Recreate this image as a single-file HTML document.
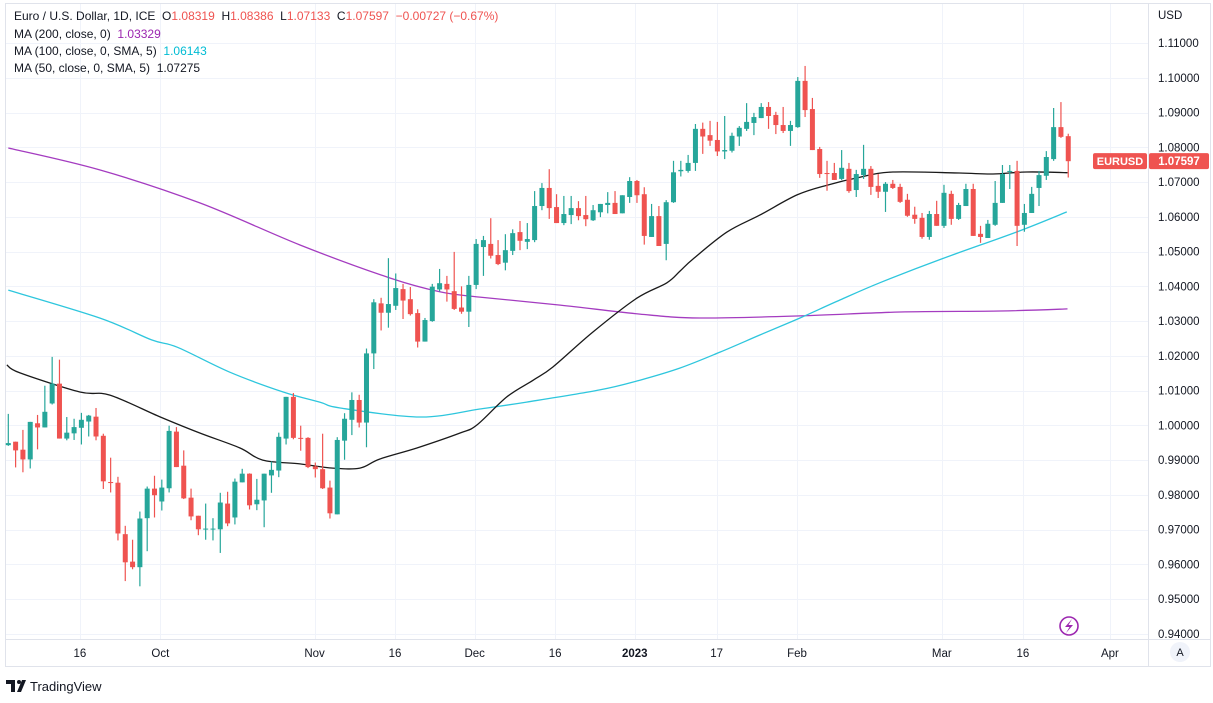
<!DOCTYPE html>
<html><head><meta charset="utf-8">
<style>
html,body{margin:0;padding:0;background:#fff;}
body{width:1213px;height:698px;overflow:hidden;font-family:"Liberation Sans",sans-serif;}
svg text{font-family:"Liberation Sans",sans-serif;}
</style></head>
<body>
<svg id="chart" width="1213" height="698" xmlns="http://www.w3.org/2000/svg"></svg>
<script>
// ---- data (prices in 1/10000 units) ----
const opens=[9943,9953,9930,9902,10006,9994,10063,10120,9962,9977,9993,10011,10025,9970,9837,9835,9687,9608,9592,9733,9818,9781,9819,9982,9884,9792,9740,9701,9701,9701,9775,9735,9836,9861,9773,9784,9856,9870,9962,10082,9964,9964,9882,9874,9821,9744,9956,10016,10073,10008,10207,10351,10324,10344,10392,10363,10323,10241,10300,10391,10407,10386,10339,10327,10404,10513,10522,10490,10468,10502,10556,10528,10533,10631,10683,10628,10582,10605,10625,10605,10590,10613,10634,10640,10610,10657,10703,10665,10542,10602,10522,10642,10731,10732,10755,10853,10835,10821,10788,10790,10831,10853,10870,10884,10916,10893,10864,10847,10858,10991,10910,10795,10726,10726,10709,10738,10677,10720,10738,10689,10672,10695,10686,10649,10606,10597,10542,10608,10574,10666,10594,10631,10680,10551,10539,10577,10640,10729,10732,10577,10611,10683,10718,10766,10858,10832];
const highs=[10033,9953,9987,10010,10030,10114,10197,10189,10024,10019,10036,10030,10050,9976,9907,9852,9711,9671,9752,9824,9855,9844,9999,9995,9928,9818,9740,9775,9733,9806,9809,9847,9875,9862,9846,9861,9896,9979,10082,10093,9999,9966,9893,9976,9841,9966,10035,10095,10088,10221,10363,10367,10481,10437,10407,10398,10334,10309,10407,10450,10430,10499,10400,10430,10536,10545,10596,10533,10550,10564,10588,10582,10674,10697,10737,10665,10660,10660,10645,10660,10634,10637,10671,10674,10662,10714,10706,10685,10637,10631,10648,10761,10761,10778,10867,10871,10876,10873,10890,10842,10861,10927,10899,10927,10930,10902,10916,10876,11002,11034,10942,10801,10761,10755,10792,10755,10735,10807,10746,10723,10700,10706,10695,10666,10629,10611,10617,10646,10692,10675,10640,10695,10695,10574,10591,10703,10749,10749,10761,10637,10686,10732,10789,10913,10930,10839];
const lows=[9941,9879,9865,9876,9931,9994,10060,9962,9957,9958,9945,9968,9957,9817,9807,9669,9552,9586,9537,9638,9735,9755,9807,9880,9788,9727,9684,9671,9669,9633,9710,9715,9836,9758,9756,9707,9806,9851,9945,9960,9927,9877,9850,9817,9732,9744,9901,9972,9994,9937,10162,10273,10281,10332,10306,10316,10224,10241,10298,10385,10356,10332,10321,10283,10392,10430,10480,10461,10446,10490,10504,10507,10527,10619,10594,10582,10576,10579,10590,10573,10588,10599,10610,10608,10610,10640,10640,10520,10542,10516,10475,10640,10716,10727,10732,10781,10804,10775,10766,10785,10804,10847,10835,10884,10853,10838,10841,10804,10856,10887,10792,10712,10675,10706,10706,10669,10657,10709,10663,10654,10614,10680,10640,10600,10580,10537,10534,10574,10568,10577,10591,10631,10545,10525,10539,10574,10640,10680,10516,10557,10611,10631,10706,10761,10827,10713];
const closes=[9949,9928,9902,10010,9994,10039,10120,9962,9979,9995,10016,10028,9968,9839,9834,9689,9606,9592,9732,9818,9799,9821,9984,9880,9790,9738,9701,9703,9703,9778,9718,9838,9861,9770,9786,9861,9872,9967,10082,9964,9962,9880,9874,9819,9747,9958,10019,10073,10008,10207,10354,10324,10349,10395,10359,10320,10241,10303,10399,10409,10391,10335,10327,10404,10522,10533,10488,10464,10504,10553,10531,10536,10631,10683,10625,10582,10608,10625,10602,10593,10619,10637,10640,10608,10662,10703,10662,10545,10602,10516,10642,10728,10735,10755,10853,10831,10819,10788,10792,10833,10856,10873,10887,10916,10890,10864,10847,10864,10991,10907,10792,10723,10723,10706,10741,10674,10723,10738,10686,10672,10695,10683,10643,10603,10594,10542,10608,10574,10669,10594,10634,10680,10545,10542,10580,10640,10723,10732,10574,10611,10666,10720,10772,10858,10830,10760];
const lastPriceText="1.07597";
// moving averages sampled at bar positions (1-based)
const ma50Idx=[0.8,2.6,10.8,14.9,21.8,27.2,32.7,35.8,40.9,45.4,49.1,51.8,56.9,62.8,65.1,69.2,72.8,75.5,81.0,87.0,91.1,92.9,94.7,99.3,103.8,108.9,113.0,117.5,122.0,131.1,135.7,140.3,145.9];
const ma50Val=[1.0174,1.0151,1.0096,1.0087,1.0024,0.9978,0.9935,0.9900,0.9889,0.9877,0.9877,0.9903,0.9935,0.9978,1.0001,1.0082,1.0130,1.0168,1.0269,1.0366,1.0410,1.0444,1.0479,1.0556,1.0605,1.0663,1.0691,1.0714,1.0729,1.0726,1.0723,1.0729,1.0727];
const ma100Idx=[1.0,13.5,20.6,24.1,31.3,38.6,43.6,46.4,57.3,65.5,71.9,81.9,87.4,92.9,98.4,103.8,109.3,114.8,120.2,128.7,138.9,145.8];
const ma100Val=[1.0389,1.0309,1.0246,1.0225,1.0153,1.0096,1.0067,1.0050,1.0024,1.0047,1.0067,1.0102,1.0130,1.0165,1.0211,1.0260,1.0309,1.0361,1.0410,1.0479,1.0556,1.0614];
const ma200Idx=[1.0,13.5,27.2,40.9,53.2,60.1,65.5,76.5,87.4,95.6,109.3,123.0,136.7,145.9];
const ma200Val=[1.0798,1.0735,1.0640,1.0519,1.0424,1.0384,1.0369,1.0346,1.0320,1.0309,1.0315,1.0326,1.0329,1.0335];
const priceTicks=[1.11,1.10,1.09,1.08,1.07,1.06,1.05,1.04,1.03,1.02,1.01,1.00,0.99,0.98,0.97,0.96,0.95,0.94];
const timeLabels=["16","Oct","Nov","16","Dec","16","2023","17","Feb","Mar","16","Apr"];
const timeIdx=[10.8,21.8,42.9,53.9,64.8,75.8,86.7,97.9,108.9,128.7,139.8,151.7];

// ---- axes ----
const svg=document.getElementById('chart');
const NS='http://www.w3.org/2000/svg';
const yOf=p=>43+(1.11-p)*3476;
const xOf=i=>8.3+(i-1)*7.31;
function mk(tag,attrs,parent){const e=document.createElementNS(NS,tag);for(const k in attrs)e.setAttribute(k,attrs[k]);(parent||svg).appendChild(e);return e;}

const frame=mk('g',{});


mk('rect',{x:5.5,y:3.5,width:1205,height:663,fill:'none',stroke:'#e0e3eb'},frame);
mk('line',{x1:1148.5,y1:3,x2:1148.5,y2:667,stroke:'#e0e3eb'},frame);
mk('line',{x1:5,y1:639.5,x2:1211,y2:639.5,stroke:'#e0e3eb'},frame);

const grid=mk('g',{});


priceTicks.forEach(p=>{mk('line',{x1:6,x2:1148,y1:Math.round(yOf(p))+0.5,y2:Math.round(yOf(p))+0.5,stroke:'#f0f3fa'},grid);});
timeIdx.forEach(i=>{const x=Math.round(xOf(i))+0.5;mk('line',{x1:x,x2:x,y1:4,y2:639,stroke:'#f0f3fa'},grid);});

const yAxis=mk('g',{});


priceTicks.forEach(p=>{const t=mk('text',{x:1158,y:yOf(p)+4,'font-size':'11.5',fill:'#131722'},yAxis);t.textContent=p.toFixed(5);

});
const usd=mk('text',{x:1158,y:19,'font-size':'11.5',fill:'#131722'},yAxis);usd.textContent='USD';



const xAxis=mk('g',{});


timeLabels.forEach((s,k)=>{const t=mk('text',{x:xOf(timeIdx[k]),y:657,'font-size':'11.5',fill:'#131722','text-anchor':'middle','font-weight':s==='2023'?'bold':'normal'},xAxis);t.textContent=s;

});

// ---- MA lines (smoothed Catmull-Rom) ----
function line(idx,val,color,name){
const pts=idx.map((i,k)=>[xOf(i),yOf(val[k])]);
let d='M'+pts[0][0].toFixed(1)+','+pts[0][1].toFixed(1);
for(let k=0;k<pts.length-1;k++){const p0=pts[Math.max(0,k-1)],p1=pts[k],p2=pts[k+1],p3=pts[Math.min(pts.length-1,k+2)];
const c1=[p1[0]+(p2[0]-p0[0])/6,p1[1]+(p2[1]-p0[1])/6],c2=[p2[0]-(p3[0]-p1[0])/6,p2[1]-(p3[1]-p1[1])/6];
d+=' C'+c1[0].toFixed(1)+','+c1[1].toFixed(1)+' '+c2[0].toFixed(1)+','+c2[1].toFixed(1)+' '+p2[0].toFixed(1)+','+p2[1].toFixed(1);}
const p=mk('path',{d:d,fill:'none',stroke:color,'stroke-width':1.3,'stroke-linejoin':'round'});

}
line(ma200Idx,ma200Val,'#a43cc0','ma200-line');
line(ma100Idx,ma100Val,'#2ec6dd','ma100-line');
line(ma50Idx,ma50Val,'#1a1a1a','ma50-line');

// ---- candles ----
const cg=mk('g',{});


opens.forEach((o,k)=>{const O=o/1e4,H=highs[k]/1e4,L=lows[k]/1e4,C=closes[k]/1e4;
const col=C>=O?'#26a69a':'#ef5350';const x=xOf(k+1);
const g=mk('g',{},cg);


mk('line',{x1:x,x2:x,y1:yOf(H),y2:yOf(L),stroke:col,'stroke-width':1.2},g);
const top=yOf(Math.max(O,C)),bot=yOf(Math.min(O,C));
mk('rect',{x:x-2.5,y:top,width:5,height:Math.max(1,bot-top),fill:col},g);});

// ---- last price labels ----
const lastC=closes[closes.length-1]/1e4;
const ly=yOf(lastC);
const sym=mk('g',{});


mk('rect',{x:1093,y:ly-8,width:54,height:16,fill:'#ef5350',rx:2},sym);
const st=mk('text',{x:1120,y:ly+4,'font-size':'11','font-weight':'bold',fill:'#fff','text-anchor':'middle'},sym);st.textContent='EURUSD';
mk('rect',{x:1149,y:ly-8,width:60,height:16,fill:'#ef5350',rx:2},sym);
const pt=mk('text',{x:1179,y:ly+4,'font-size':'11.5','font-weight':'bold',fill:'#fff','text-anchor':'middle'},sym);pt.textContent=lastPriceText;

// icons
const ic=mk('g',{});


mk('circle',{cx:1069,cy:626,r:9,fill:'#fff',stroke:'#9c27b0','stroke-width':1.6},ic);
mk('path',{d:'M1072,619 L1065,627 L1069.5,627 L1066,633 L1073,625 L1068.5,625 Z',fill:'#9c27b0'},ic);
const au=mk('g',{});


mk('circle',{cx:1180,cy:652,r:10,fill:'#f0f3fa'},au);
const at=mk('text',{x:1180,y:656,'font-size':'11',fill:'#131722','text-anchor':'middle'},au);at.textContent='A';

// legend
const lg=mk('g',{});


const l1=mk('text',{x:14,y:20,'font-size':'12',fill:'#131722'},lg);
l1.innerHTML='Euro / U.S. Dollar, 1D, ICE&#160; O<tspan fill="#ef5350">1.08319</tspan>&#160; H<tspan fill="#ef5350">1.08386</tspan>&#160; L<tspan fill="#ef5350">1.07133</tspan>&#160; C<tspan fill="#ef5350">1.07597</tspan>&#160; <tspan fill="#ef5350">−0.00727 (−0.67%)</tspan>';


const l2=mk('text',{x:14,y:38,'font-size':'12',fill:'#131722'},lg);
l2.innerHTML='MA (200, close, 0)&#160; <tspan fill="#9c27b0">1.03329</tspan>';


const l3=mk('text',{x:14,y:55,'font-size':'12',fill:'#131722'},lg);
l3.innerHTML='MA (100, close, 0, SMA, 5)&#160; <tspan fill="#00bcd4">1.06143</tspan>';


const l4=mk('text',{x:14,y:72,'font-size':'12',fill:'#131722'},lg);
l4.innerHTML='MA (50, close, 0, SMA, 5)&#160; <tspan fill="#131722">1.07275</tspan>';



// branding
const br=mk('g',{});


mk('path',{d:'M6,680 h9 v12 h-4 v-8 h-5 Z M17,692 l5,-12 h4 l-5,12 Z',fill:'#131722'},br);
mk('circle',{cx:19,cy:682,r:2,fill:'#131722'},br);
const bt=mk('text',{x:30,y:691,'font-size':'13',fill:'#131722'},br);bt.textContent='TradingView';
</script>
</body></html>
